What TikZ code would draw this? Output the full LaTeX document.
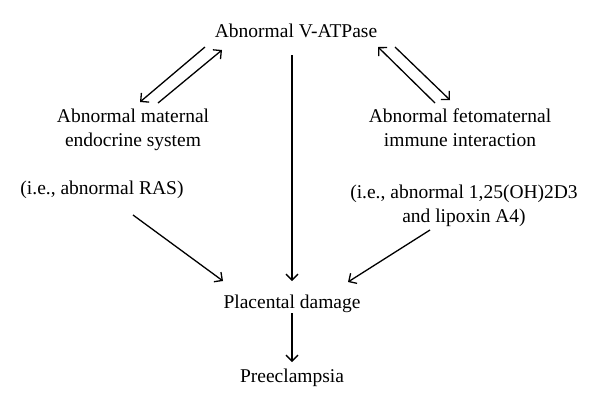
\documentclass[tikz,border=0pt]{standalone}
\usepackage{fontspec}
\setmainfont{Liberation Serif}
\usepackage{tikz}
\usetikzlibrary{arrows.meta}

\begin{document}
\begin{tikzpicture}[x=1pt, y=-1pt,
    every node/.style={inner sep=0pt, anchor=base, align=center,
        font=\fontsize{19.5}{23.5}\selectfont},
    arr/.style={line width=1.3pt, -{Straight Barb[length=6pt, width=12pt, line width=1.3pt]}}]

    \useasboundingbox (0,0) rectangle (600,410);

    % Nodi
    \node (atp) at (296,37) {Abnormal V-ATPase};
    \node (mat) at (133,146) {Abnormal maternal\\endocrine system};
    \node (fet) at (460,146) {Abnormal fetomaternal\\immune interaction};
    \node (ras) at (102,194) {(i.e., abnormal RAS)};
    \node (vd)  at (464,222) {(i.e., abnormal 1,25(OH)2D3\\and lipoxin A4)};
    \node (dmg) at (292,308) {Placental damage};
    \node (pre) at (292,382) {Preeclampsia};

    % Frecce doppie
    \draw[arr] ([shift={(-91,10)}]atp.base) -- ([shift={(7,-44)}]mat.base);
    \draw[arr] ([shift={(25,-43)}]mat.base) -- ([shift={(-74,13)}]atp.base);
    \draw[arr] ([shift={(-25,-43)}]fet.base) -- ([shift={(82,10)}]atp.base);
    \draw[arr] ([shift={(99,10)}]atp.base) -- ([shift={(-10,-46)}]fet.base);

    % Verso il danno placentare
    \draw[arr] ([shift={(-4,18)}]atp.base) -- ([shift={(0,-27)}]dmg.base);
    \draw[arr] ([shift={(31,21)}]ras.base) -- ([shift={(-69,-27)}]dmg.base);
    \draw[arr] ([shift={(-34,8)}]vd.base) -- ([shift={(56,-26)}]dmg.base);
    \draw[arr] ([shift={(0,5)}]dmg.base) -- ([shift={(0,-20)}]pre.base);
\end{tikzpicture}
\end{document}
